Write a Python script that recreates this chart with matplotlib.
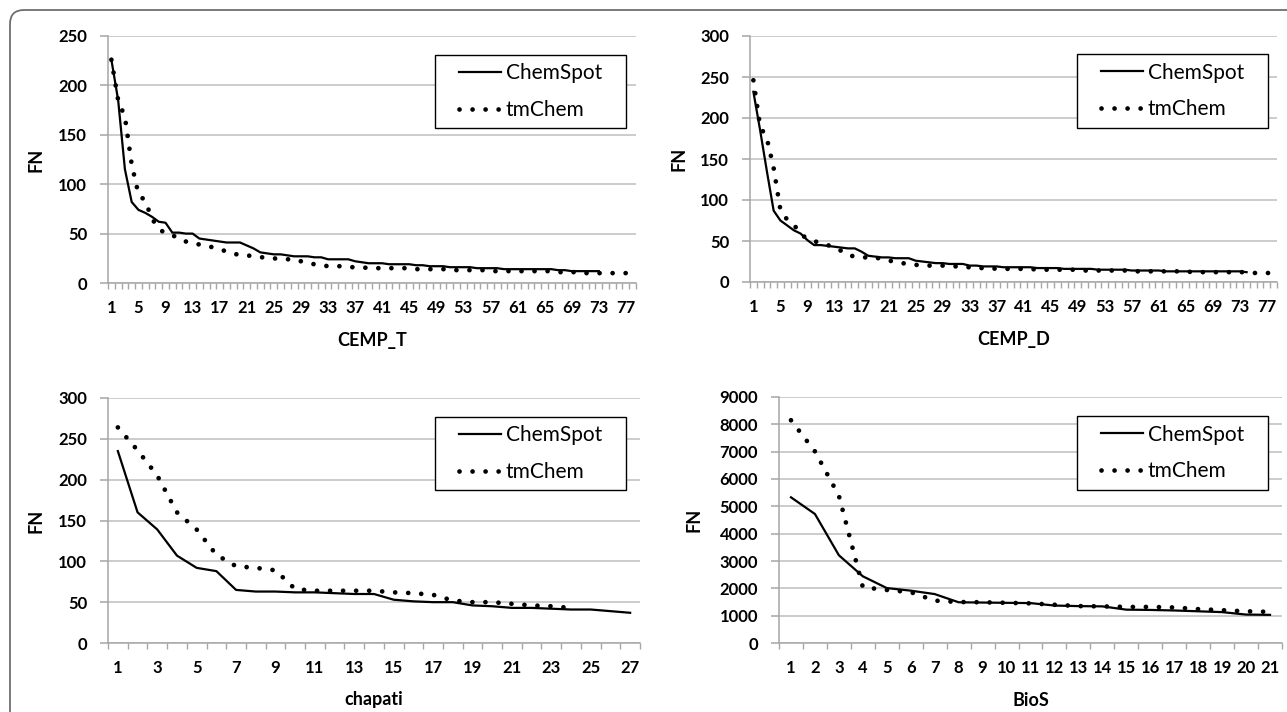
import numpy as np
import matplotlib
matplotlib.use("Agg")
import matplotlib.pyplot as plt
from matplotlib.patches import Rectangle, FancyBboxPatch
from matplotlib.transforms import IdentityTransform

plt.rcParams['font.family'] = ['Lato', 'DejaVu Sans']
plt.rcParams['font.weight'] = 'bold'

# FN values, one value per rank
cemp_t_chemspot = [226, 185, 115, 82, 74, 71, 67, 62, 61, 51,
                   51, 50, 50, 45, 44, 43, 42, 41, 41, 41,
                   38, 35, 31, 30, 29, 29, 28, 27, 27, 27,
                   26, 26, 24, 24, 24, 24, 22, 21, 20, 20,
                   20, 19, 19, 19, 19, 18, 18, 17, 17, 17,
                   16, 16, 16, 16, 15, 15, 15, 15, 14, 14,
                   14, 14, 14, 14, 14, 14, 13, 13, 12, 12,
                   12, 12, 12]
cemp_t_tmchem = [226, 185, 168, 120, 90, 83, 65, 55, 50, 48,
                 46, 42, 40, 39, 38, 36, 34, 32, 30, 28,
                 28, 27, 26, 26, 25, 24, 24, 24, 22, 20,
                 19, 18, 17, 17, 17, 16, 16, 16, 15, 15,
                 15, 15, 15, 15, 15, 14, 14, 14, 14, 14,
                 14, 13, 13, 13, 13, 13, 12, 12, 12, 12,
                 12, 12, 12, 12, 12, 12, 11, 11, 11, 11,
                 10, 10, 10, 10, 10, 10, 10]

cemp_d_chemspot = [232, 185, 135, 87, 75, 69, 63, 59, 51, 45,
                   45, 44, 43, 42, 41, 41, 37, 32, 31, 30,
                   30, 29, 29, 29, 26, 25, 24, 23, 23, 22,
                   22, 22, 20, 20, 19, 19, 19, 18, 18, 18,
                   18, 18, 17, 17, 17, 17, 16, 16, 16, 16,
                   16, 15, 15, 15, 15, 15, 14, 14, 14, 14,
                   14, 13, 13, 13, 13, 13, 13, 13, 13, 13,
                   13, 13, 13, 12]
cemp_d_tmchem = [246, 190, 175, 139, 88, 76, 70, 58, 53, 50,
                 47, 45, 42, 38, 33, 31, 30, 30, 30, 28,
                 26, 25, 23, 22, 21, 20, 20, 20, 20, 20,
                 19, 18, 18, 17, 17, 17, 16, 16, 16, 16,
                 16, 16, 15, 15, 15, 15, 15, 15, 15, 14,
                 14, 14, 14, 14, 14, 14, 13, 13, 13, 13,
                 13, 13, 13, 13, 13, 12, 12, 12, 12, 12,
                 12, 12, 12, 12, 11, 11, 11, 11]

chapati_chemspot = [235, 160, 139, 107, 92, 88, 65, 63, 63, 62,
                    62, 61, 60, 60, 53, 51, 50, 50, 46, 45,
                    43, 43, 42, 41, 41, 39, 37]
chapati_tmchem = [264, 236, 205, 160, 139, 108, 94, 92, 89, 66,
                  64, 64, 64, 64, 62, 61, 59, 52, 50, 50,
                  48, 46, 45, 43]

bios_chemspot = [5330, 4720, 3210, 2440, 2010, 1915, 1790, 1490, 1480, 1470,
                 1460, 1370, 1350, 1340, 1220, 1210, 1190, 1160, 1130, 1040,
                 1030]
bios_tmchem = [8150, 7010, 5390, 2040, 1940, 1860, 1550, 1500, 1490, 1470,
               1450, 1400, 1350, 1340, 1320, 1320, 1300, 1240, 1200, 1160,
               1140]

W, H = 1287, 712
GRAY = '#A6A6A6'

fig = plt.figure(figsize=(W / 100, H / 100), dpi=100)

# rounded outer frame
fig.add_artist(FancyBboxPatch((10, -40), 1320, H - 10 + 40,
                              boxstyle='round,pad=0,rounding_size=14',
                              transform=IdentityTransform(),
                              facecolor='none', edgecolor='#6E6E6E', lw=1.3))

# name, chemspot, tmchem, axes box (l, r, t, b) in px, categories, label step,
# y max, y step, legend box (l, r, t, b) in px, y label offset
panels = [
    ('CEMP_T', cemp_t_chemspot, cemp_t_tmchem, (108, 636, 36, 283), 78, 4, 250, 50, (435, 626, 55, 128), 72),
    ('CEMP_D', cemp_d_chemspot, cemp_d_tmchem, (750, 1277, 36, 282), 78, 4, 300, 50, (1077, 1268, 54, 128), 71),
    ('chapati', chapati_chemspot, chapati_tmchem, (108, 640, 398, 643), 27, 2, 300, 50, (435, 626, 417, 490), 72),
    ('BioS', bios_chemspot, bios_tmchem, (779, 1282, 397, 643), 21, 1, 9000, 1000, (1077, 1268, 416, 490), 85),
]

for name, chem, tm, (l, r, t, b), ncat, step, ymax, ystep, (bl, br, bt, bb), ylab_off in panels:
    ax = fig.add_axes([l / W, 1 - b / H, (r - l) / W, (b - t) / H])

    ax.plot(np.arange(1, len(chem) + 1), chem, color='black', lw=1.6,
            solid_joinstyle='round', label='ChemSpot', zorder=3)
    ax.plot(np.arange(1, len(tm) + 1), tm, color='black', lw=3.4,
            linestyle=(0, (0.01, 2.75)), dash_capstyle='round',
            label='tmChem', zorder=3)

    ax.set_xlim(0.5, ncat + 0.5)
    ax.set_ylim(0, ymax)
    ax.set_yticks(range(0, ymax + 1, ystep))
    ax.set_xticks(range(1, ncat + 1, step))
    ax.set_xticks(np.arange(0.5, ncat + 1, 1), minor=True)
    ax.yaxis.grid(True, color='#BFBFBF', lw=1.1)
    ax.set_axisbelow(True)

    for s in ['top', 'right']:
        ax.spines[s].set_visible(False)
    for s in ['left', 'bottom']:
        ax.spines[s].set_color(GRAY)
        ax.spines[s].set_linewidth(1.1)

    ax.tick_params(axis='y', length=6, color=GRAY, width=1.1, pad=9, labelsize=12)
    ax.tick_params(axis='x', which='major', length=0, pad=12, labelsize=12)
    ax.tick_params(axis='x', which='minor', length=4, color=GRAY, width=1)

    ax.set_xlabel(name, fontsize=13, fontweight='bold', va='center')
    ax.xaxis.set_label_coords(0.5, -57 / (b - t))
    ax.set_ylabel('FN', fontsize=13, fontweight='bold', va='center')
    ax.yaxis.set_label_coords(-ylab_off / (r - l), 0.5)

    # legend with a box drawn around it
    ax.add_artist(Rectangle((bl / W, 1 - bb / H), (br - bl) / W, (bb - bt) / H,
                            transform=fig.transFigure, facecolor='white',
                            edgecolor='black', lw=1.0, zorder=4, clip_on=False))
    ax.legend(loc='center', bbox_to_anchor=((bl + br) / 2 / W, 1 - (bt + bb) / 2 / H),
              bbox_transform=fig.transFigure, frameon=False,
              prop={'size': 15, 'weight': 'normal'},
              handlelength=2.0, handletextpad=0.25, labelspacing=0.8,
              borderpad=0, borderaxespad=0)

fig.savefig('out.png', dpi=100)
